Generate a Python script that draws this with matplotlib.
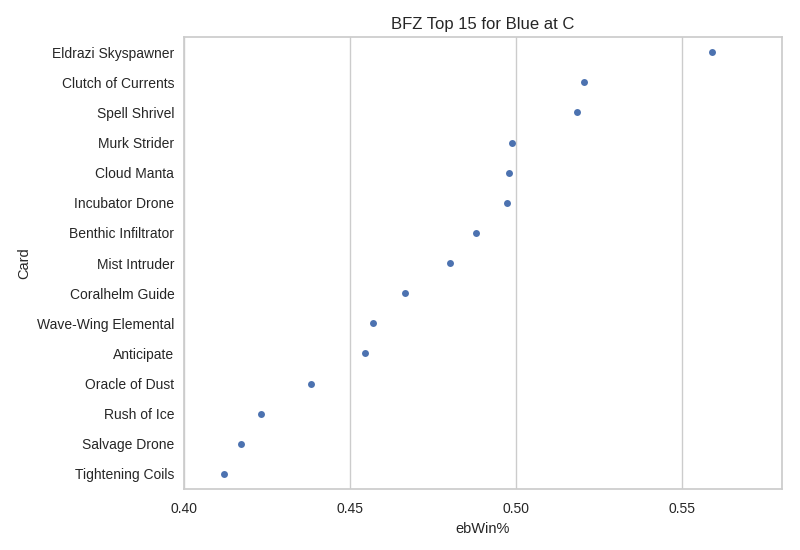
import matplotlib
matplotlib.use("Agg")
import matplotlib.pyplot as plt
import seaborn as sns

cards = [
    "Eldrazi Skyspawner", "Clutch of Currents", "Spell Shrivel", "Murk Strider",
    "Cloud Manta", "Incubator Drone", "Benthic Infiltrator", "Mist Intruder",
    "Coralhelm Guide", "Wave-Wing Elemental", "Anticipate", "Oracle of Dust",
    "Rush of Ice", "Salvage Drone", "Tightening Coils",
]
ebwin = [
    0.559, 0.5205, 0.5184, 0.4988,
    0.4979, 0.4973, 0.4880, 0.4801,
    0.4666, 0.4569, 0.4545, 0.4383,
    0.4232, 0.4172, 0.4120,
]

sns.set_theme(style="whitegrid")
plt.rcParams["font.family"] = ["Liberation Sans", "DejaVu Sans"]

fig = plt.figure(figsize=(8, 5.5), dpi=100)
ax = fig.add_axes([0.23, 0.111, 0.7475, 0.8216])

ypos = list(range(len(cards)))
ax.plot(ebwin, ypos, "o", color="#4c72b0", markersize=5, markeredgewidth=0)

ax.set_yticks(ypos)
ax.set_yticklabels(cards, fontsize=10)
ax.set_ylim(len(cards) - 0.5, -0.5)
ax.set_xlim(0.40, 0.58)
ax.set_xticks([0.40, 0.45, 0.50, 0.55])
ax.set_xticklabels(["0.40", "0.45", "0.50", "0.55"], fontsize=10)
ax.tick_params(axis="y", pad=1)
ax.yaxis.grid(False)
ax.xaxis.grid(True, color="#cccccc", linewidth=1)
ax.set_xlabel("ebWin%", fontsize=10.5)
ax.set_ylabel("Card", fontsize=10.5)
ax.set_title("BFZ Top 15 for Blue at C", fontsize=12)
for s in ax.spines.values():
    s.set_color("#cccccc")

fig.savefig("out.png", dpi=100)
